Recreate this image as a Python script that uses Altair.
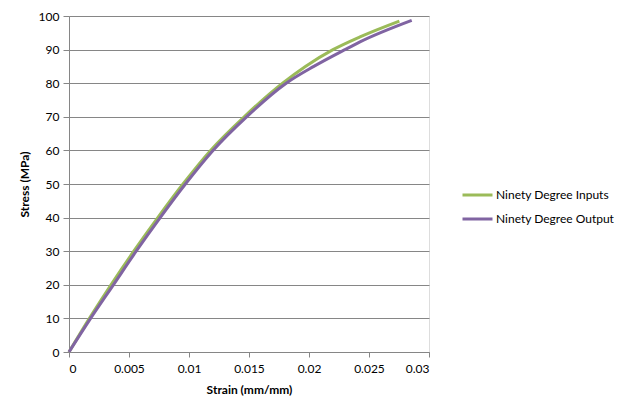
import altair as alt
import pandas as pd

inputs_strain = [0.0, 0.0017, 0.0035, 0.0054, 0.0074, 0.0095, 0.0118, 0.0146,
                 0.0178, 0.0197, 0.0220, 0.02425, 0.02753]
inputs_stress = [0.0, 10.0, 20.0, 30.0, 40.0, 50.0, 60.0, 70.0,
                 80.0, 85.0, 90.0, 93.8, 98.5]

output_strain = [0.0, 0.0018, 0.0037, 0.0056, 0.0076, 0.0097, 0.0120, 0.0148,
                 0.0181, 0.0204, 0.0230, 0.02425, 0.02856]
output_stress = [0.0, 10.0, 20.0, 30.0, 40.0, 50.0, 60.0, 70.0,
                 80.0, 85.0, 90.0, 92.3, 98.7]

series_names = ["Ninety Degree Inputs", "Ninety Degree Output"]
series_colors = ["#9BBB59", "#8064A2"]

rows = []
for name, xs, ys in [(series_names[0], inputs_strain, inputs_stress),
                     (series_names[1], output_strain, output_stress)]:
    for i, (x, y) in enumerate(zip(xs, ys)):
        rows.append({"series": name, "strain": x, "stress": y, "order": i})
df = pd.DataFrame(rows)

FONT = "Lato"

chart = alt.Chart(df).mark_line(strokeWidth=3, interpolate="monotone").encode(
    x=alt.X("strain:Q", scale=alt.Scale(domain=[0, 0.03], nice=False),
            axis=alt.Axis(title="Strain (mm/mm)", values=[0, 0.005, 0.01, 0.015, 0.02, 0.025, 0.03],
                          format="~g", grid=False, tickSize=5, tickColor="#868686",
                          domainColor="#868686", labelColor="#000000", labelFontSize=12,
                          labelFont=FONT, labelPadding=6, titleFont=FONT, titleFontSize=12,
                          titleFontWeight="bold", titleColor="#000000", titlePadding=10)),
    y=alt.Y("stress:Q", scale=alt.Scale(domain=[0, 100], nice=False),
            axis=alt.Axis(title="Stress (MPa)", values=list(range(0, 101, 10)),
                          grid=True, gridColor="#868686", gridWidth=1, tickSize=6,
                          tickColor="#868686", domainColor="#868686", labelColor="#000000",
                          labelFontSize=12, labelFont=FONT, labelPadding=4,
                          titleFont=FONT, titleFontSize=12, titleFontWeight="bold",
                          titleColor="#000000", titlePadding=7)),
    color=alt.Color("series:N", scale=alt.Scale(domain=series_names, range=series_colors),
                    legend=alt.Legend(title=None, orient="none", legendX=392, legendY=172,
                                      symbolType="stroke", symbolStrokeWidth=3, symbolSize=900,
                                      clipHeight=14, labelFont=FONT, labelFontSize=12,
                                      labelColor="#000000", rowPadding=10, labelOffset=2)),
    order="order:Q",
).properties(
    width=360, height=336,
    autosize=alt.AutoSizeParams(type="none"),
    padding={"left": 61, "top": 8, "right": 188, "bottom": 55},
).configure_view(stroke=None).configure(background="white")

chart.save("out.html", embed_options={"renderer": "svg", "actions": False})
